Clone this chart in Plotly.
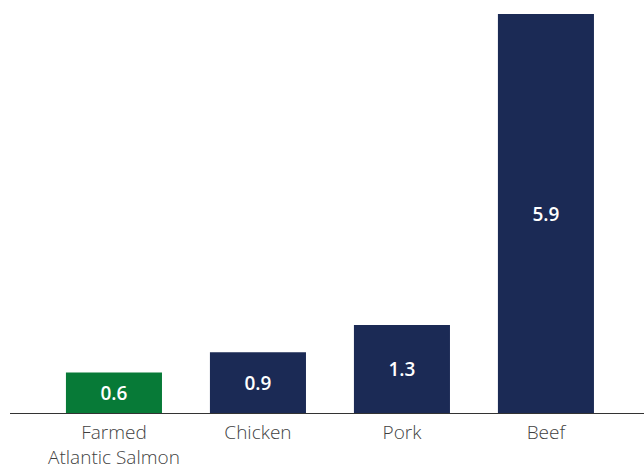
import plotly.graph_objects as go

categories = ["Farmed<br>Atlantic Salmon", "Chicken", "Pork", "Beef"]
values = [0.6, 0.9, 1.3, 5.9]
value_labels = ["0.6", "0.9", "1.3", "5.9"]
colors = ["#077a37", "#1b2a55", "#1b2a55", "#1b2a55"]

fig = go.Figure(go.Bar(
    x=categories, y=values, text=value_labels,
    marker=dict(color=colors, line=dict(width=0)),
    textposition="inside", insidetextanchor="middle",
    textfont=dict(family="Open Sans", size=19, color="white", weight=600),
    width=0.667, hoverinfo="skip",
))

fig.update_layout(
    width=644, height=468,
    margin=dict(l=10, r=0, t=14, b=55),
    paper_bgcolor="white", plot_bgcolor="white",
    showlegend=False,
    uniformtext=dict(minsize=19, mode="show"),
    font=dict(family="Open Sans", color="#444444", size=19),
)
fig.update_xaxes(
    range=[-0.722, 3.681], showline=True, linecolor="#333333", linewidth=1,
    showgrid=False, ticks="", ticklabelstandoff=2, automargin=False,
    tickfont=dict(family="Open Sans", size=19, color="#3f3f3f", weight=300),
)
fig.update_yaxes(range=[0, 5.9], visible=False, showgrid=False, automargin=False)

fig.write_html("out.html")
